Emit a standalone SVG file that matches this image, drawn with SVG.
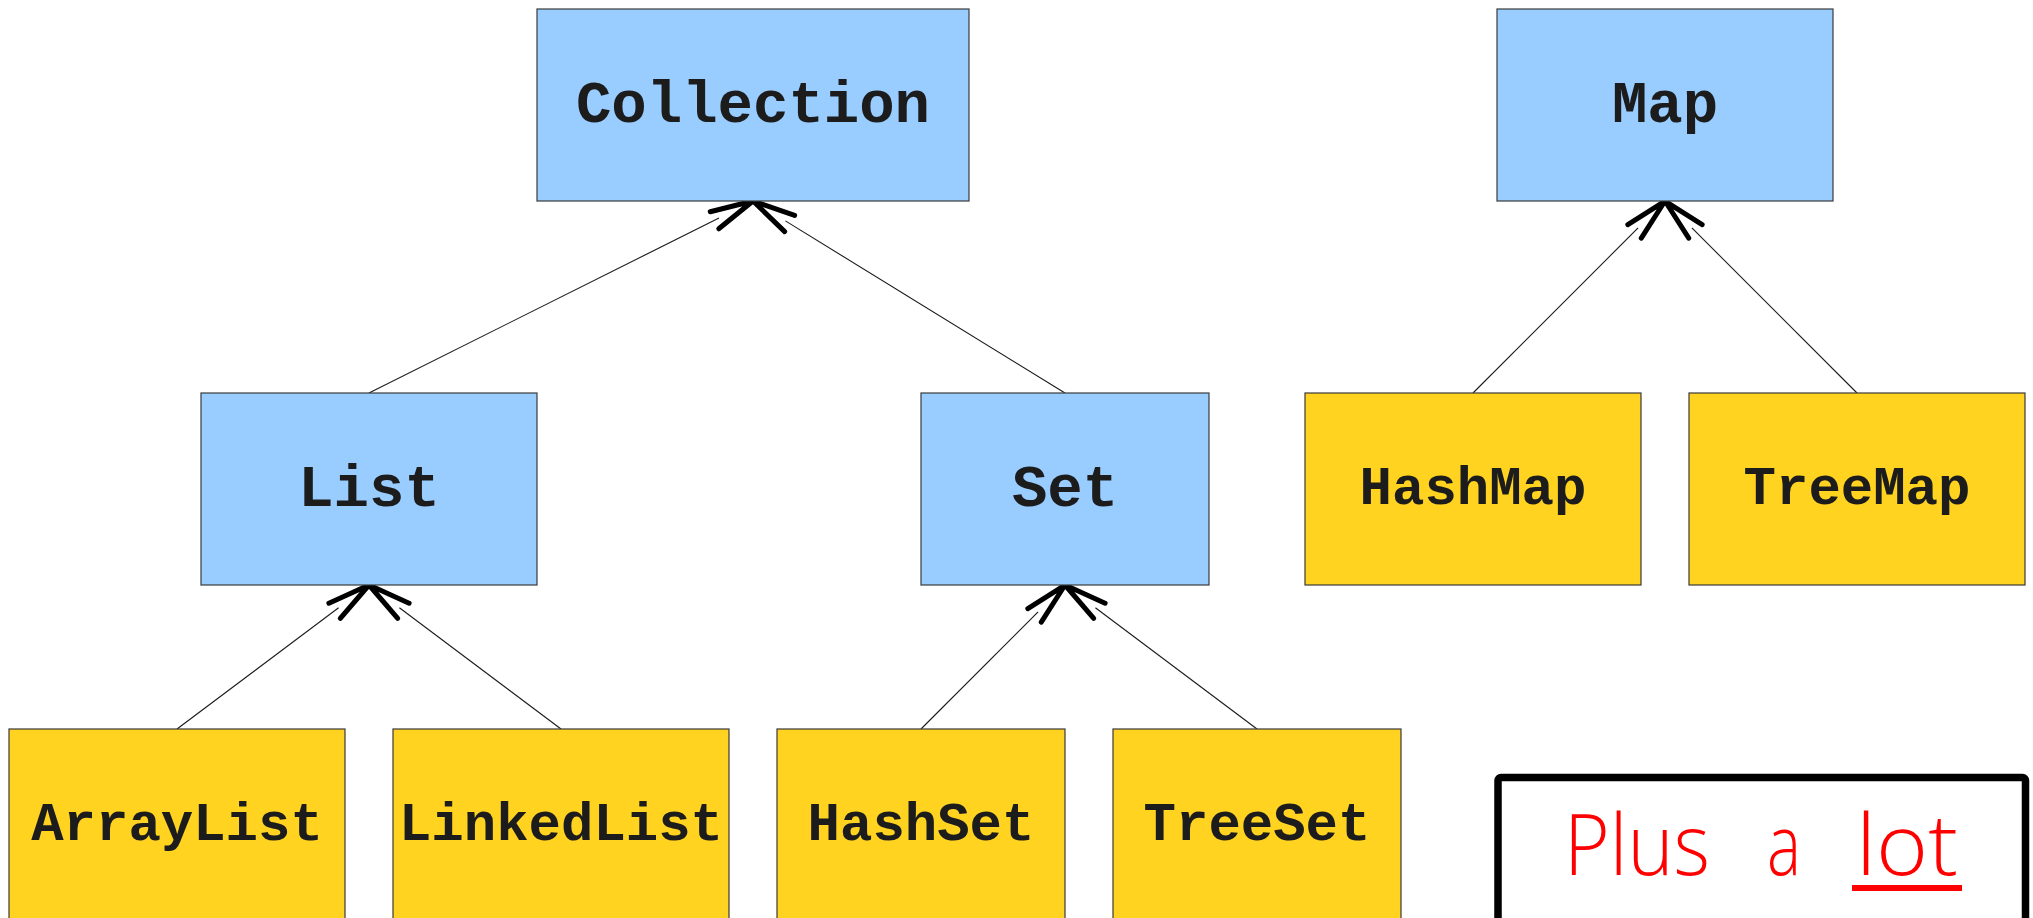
<svg xmlns="http://www.w3.org/2000/svg" width="2033" height="918" viewBox="0 0 2033 918">
  <style>
    .iface { fill: #99ccff; stroke: #3a3a3a; stroke-width: 1.2; }
    .cls { fill: #ffd320; stroke: #3a3a3a; stroke-width: 1.2; }
    .lbl { font-family: "Liberation Mono", "Courier New", monospace; font-weight: bold; fill: #1c1c1c; text-anchor: middle; }
    .big { font-size: 59px; }
    .small { font-size: 54px; }
    .conn { stroke: #1a1a1a; stroke-width: 1.1; fill: none; marker-end: url(#open); }
    .note { font-family: "Open Sans", "Liberation Sans", sans-serif; font-weight: 300; font-size: 84px; fill: #ff0000; }
  </style>
  <defs>
    <marker id="open" markerUnits="userSpaceOnUse" markerWidth="60" markerHeight="40" refX="0" refY="0" orient="auto" overflow="visible" viewBox="-10 -20 60 40">
      <path d="M -5 -9.5 L 38 0 L -5 9.5" fill="none" stroke="#000" stroke-width="5" stroke-linecap="round" stroke-linejoin="round"/>
    </marker>
  </defs>

  <rect width="2033" height="918" fill="#ffffff"/>

  <g id="connectors">
    <line class="conn" x1="369" y1="393" x2="719.0" y2="218.0"/>
    <line class="conn" x1="1065" y1="393" x2="785.4" y2="220.9"/>
    <line class="conn" x1="177" y1="729" x2="338.6" y2="607.8"/>
    <line class="conn" x1="561" y1="729" x2="399.4" y2="607.8"/>
    <line class="conn" x1="921" y1="729" x2="1038.1" y2="611.9"/>
    <line class="conn" x1="1257" y1="729" x2="1095.4" y2="607.8"/>
    <line class="conn" x1="1473" y1="393" x2="1638.1" y2="227.9"/>
    <line class="conn" x1="1857" y1="393" x2="1691.9" y2="227.9"/>
  </g>

  <g id="collection">
    <rect class="iface" x="537" y="9" width="432" height="192"/>
    <text class="lbl big" x="753" y="122">Collection</text>
  </g>
  <g id="map">
    <rect class="iface" x="1497" y="9" width="336" height="192"/>
    <text class="lbl big" x="1665" y="122">Map</text>
  </g>
  <g id="list">
    <rect class="iface" x="201" y="393" width="336" height="192"/>
    <text class="lbl big" x="369" y="506">List</text>
  </g>
  <g id="set">
    <rect class="iface" x="921" y="393" width="288" height="192"/>
    <text class="lbl big" x="1065" y="506">Set</text>
  </g>
  <g id="hashmap">
    <rect class="cls" x="1305" y="393" width="336" height="192"/>
    <text class="lbl small" x="1473" y="504">HashMap</text>
  </g>
  <g id="treemap">
    <rect class="cls" x="1689" y="393" width="336" height="192"/>
    <text class="lbl small" x="1857" y="504">TreeMap</text>
  </g>
  <g id="arraylist">
    <rect class="cls" x="9" y="729" width="336" height="192"/>
    <text class="lbl small" x="177" y="840">ArrayList</text>
  </g>
  <g id="linkedlist">
    <rect class="cls" x="393" y="729" width="336" height="192"/>
    <text class="lbl small" x="561" y="840">LinkedList</text>
  </g>
  <g id="hashset">
    <rect class="cls" x="777" y="729" width="288" height="192"/>
    <text class="lbl small" x="921" y="840">HashSet</text>
  </g>
  <g id="treeset">
    <rect class="cls" x="1113" y="729" width="288" height="192"/>
    <text class="lbl small" x="1257" y="840">TreeSet</text>
  </g>

  <g id="note">
    <rect x="1498" y="777.5" width="527.5" height="160" rx="3" fill="#ffffff" stroke="#000000" stroke-width="7.5"/>
    <text class="note" y="875"><tspan x="1564" textLength="146" lengthAdjust="spacingAndGlyphs">Plus</tspan><tspan x="1767" textLength="34" lengthAdjust="spacingAndGlyphs">a</tspan><tspan x="1856" textLength="102" lengthAdjust="spacingAndGlyphs">lot</tspan></text>
    <rect x="1852" y="885" width="110" height="6" fill="#ff0000"/>
  </g>
</svg>
